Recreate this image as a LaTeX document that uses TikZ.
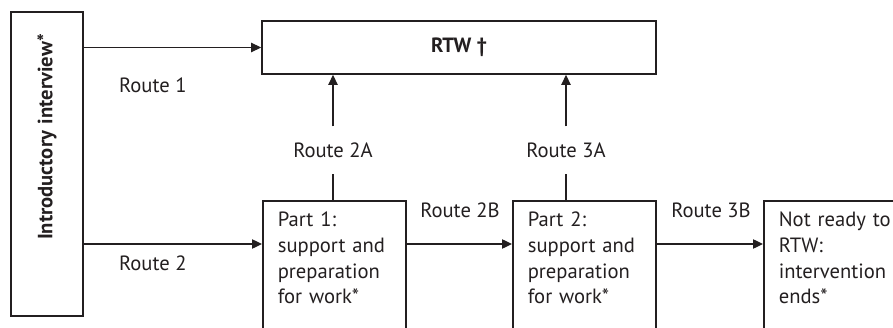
\documentclass[tikz,border=0pt]{standalone}
\usepackage{fontspec}
\setmainfont{PT Sans}
\usetikzlibrary{positioning,arrows.meta}
\definecolor{ink}{HTML}{231F20}
\newcommand{\flowfont}{\fontsize{17.6pt}{22pt}\selectfont}

\begin{document}
\begin{tikzpicture}[
  >={Triangle[length=3mm,width=2.8mm]},
  box/.style={rectangle,draw=ink,line width=1.4pt,text=ink,font=\flowfont},
  part/.style={box,anchor=north west,align=left,text width=3.39cm,inner xsep=0.45cm,inner ysep=0.33cm,text depth=3cm},
  lbl/.style={text=ink,font=\flowfont},
  cut/.style={lbl,minimum height=1.41cm},
  link/.style={draw=ink,line width=1.1pt}
]
\useasboundingbox (0,0) rectangle (26.79,9.81);
% entry interview, text runs bottom to top
\node[box,rotate=90,minimum width=9.12cm,minimum height=2.16cm,text width=7.8cm,align=right,inner xsep=0.66cm,font=\flowfont\bfseries] (intro) at (1.41,4.89) {Introductory interview*};
% return to work
\node[box,minimum width=11.82cm,minimum height=1.59cm,font=\flowfont\bfseries] (rtw) at (13.77,8.385) {RTW †};
% support stages and exit
\node[part] (part1) at (7.86,3.81) {Part 1:\\ support and\\ preparation\\ for work*};
\node[part] (part2) at (15.36,3.81) {Part 2:\\ support and\\ preparation\\ for work*};
\node[part] (ready) at (22.89,3.81) {Not ready to\\ RTW:\\ intervention\\ ends*};
\coordinate (row) at (0,2.49);
% route labels
\node[lbl,anchor=west] (r1) at (3.45,7.26) {Route 1};
\node[lbl,anchor=west] (r2) at (3.45,1.92) {Route 2};
\node[cut] (r2a) at (9.99,5.31) {Route 2A};
\node[cut] (r3a) at (16.98,5.31) {Route 3A};
\node[lbl] (r2b) at (13.8,3.51) {Route 2B};
\node[lbl] (r3b) at (21.33,3.51) {Route 3B};
% routes 1 and 2 out of the interview
\draw[link,->] (intro.south |- rtw.west) -- (rtw.west);
\draw[link,->] (intro.south |- row) -- (part1.west |- row);
% upward routes to RTW
\draw[link] (r2a.south |- part1.north) -- (r2a.south);
\draw[link,->] (r2a.north) -- (r2a.north |- rtw.south);
\draw[link] (r3a.south |- part2.north) -- (r3a.south);
\draw[link,->] (r3a.north) -- (r3a.north |- rtw.south);
% onward routes
\draw[link,->] (part1.east |- row) -- (part2.west |- row);
\draw[link,->] (part2.east |- row) -- (ready.west |- row);
\end{tikzpicture}
\end{document}
